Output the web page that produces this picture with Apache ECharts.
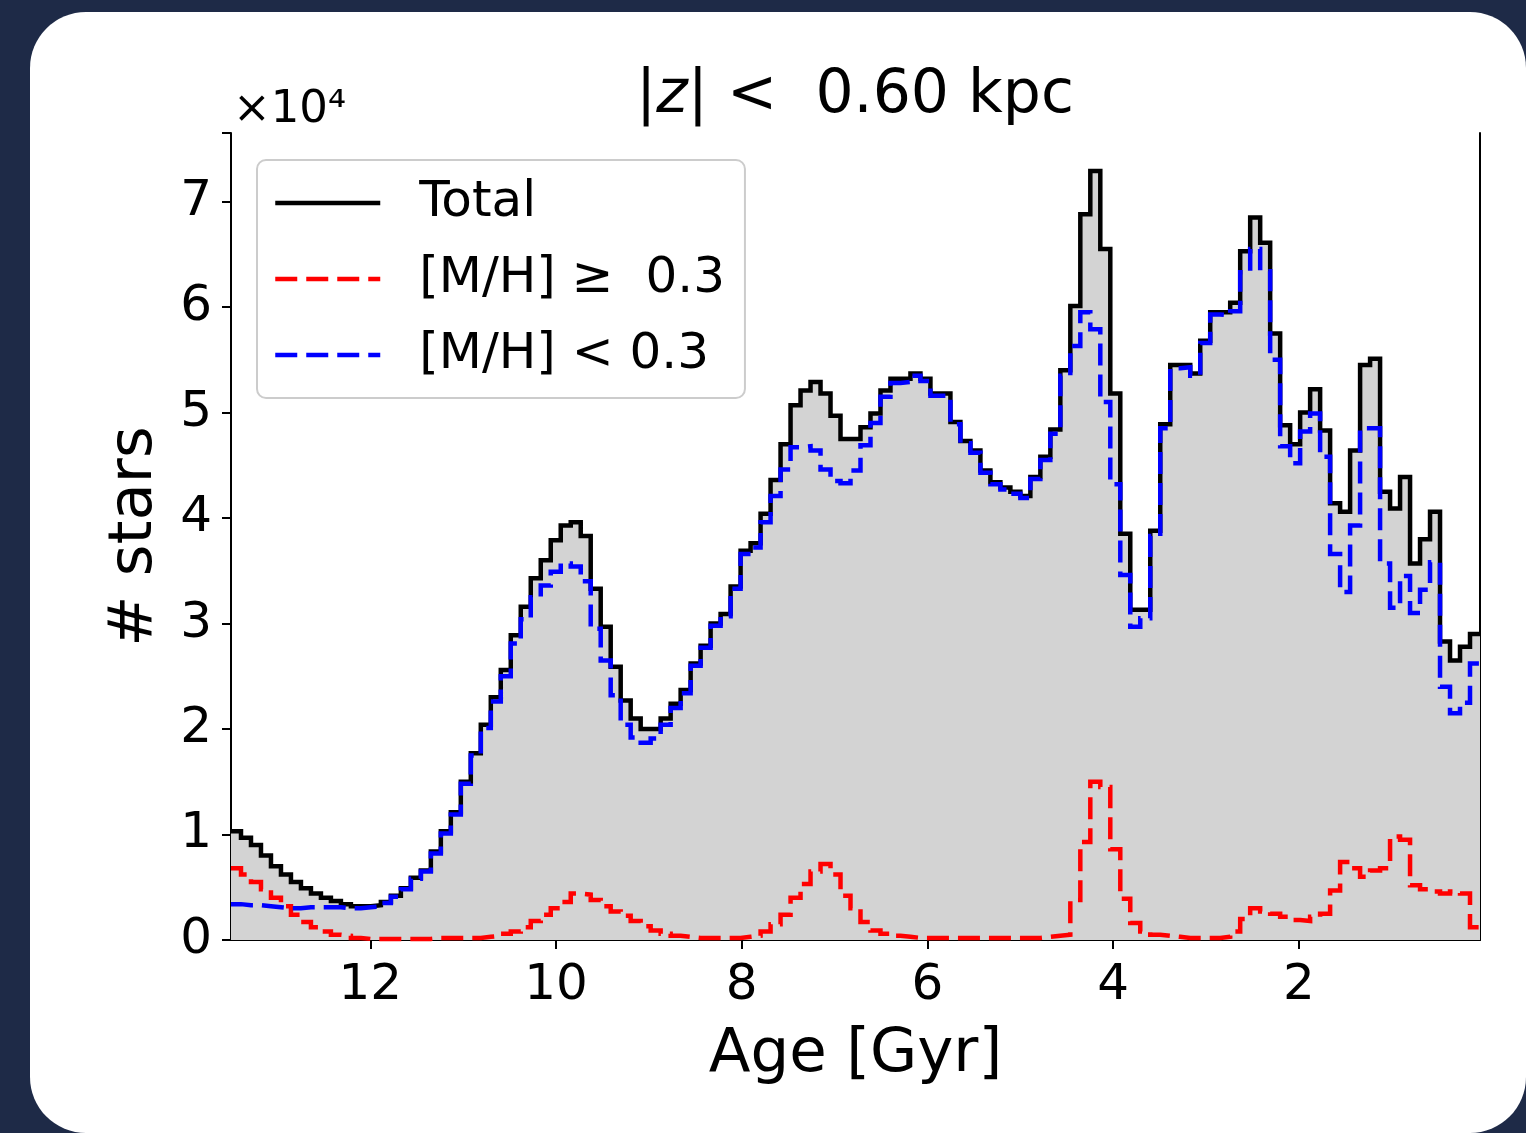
<!DOCTYPE html>
<html><head><meta charset="utf-8">
<script src="https://cdn.jsdelivr.net/npm/echarts@6/dist/echarts.min.js"></script>
<style>
html,body{margin:0;padding:0;width:1526px;height:1133px;background:#1e2a47;overflow:hidden}
#card{position:absolute;left:30px;top:12px;width:1496px;height:1121px;background:#fff;border-radius:56px}
#chart{position:absolute;left:0;top:0;width:1526px;height:1133px}
</style></head><body><div id="card"></div><div id="chart"></div>
<script>
// Age range of the histogram (Gyr), oldest on the left
const ageMax = 13.5;
const ageMin = 0.05;
// Star counts per age bin, in units of 10^4 (bins ordered from oldest to youngest)
const total = [
 1.03,0.97,0.90,0.80,0.70,0.62,0.55,0.49,0.44,0.40,0.37,0.34,0.32,0.32,
 0.33,0.36,0.42,0.49,0.59,0.66,0.84,1.03,1.21,
 1.50,1.77,2.04,2.30,2.56,2.89,3.16,3.43,3.60,3.79,3.93,3.96,3.83,3.33,
 2.97,2.59,2.27,2.10,2.00,2.00,2.10,2.24,2.37,2.62,2.79,3.00,3.09,3.35,3.69,3.76,4.04,4.36,4.70,5.07,5.21,5.29,
 5.18,4.97,4.75,4.75,4.86,4.99,5.21,5.32,5.32,5.37,5.32,5.18,5.18,4.91,4.73,4.64,4.45,4.34,4.29,4.25,
 4.21,4.39,4.58,4.84,5.40,6.01,6.88,7.29,6.55,5.18,3.85,3.13,3.13,3.88,4.89,5.45,5.45,5.37,5.68,5.95,5.95,6.04,6.53,
 6.85,6.61,5.75,4.88,4.70,5.00,5.22,4.83,4.14,4.06,4.64,5.45,5.51,4.25,4.09,4.39,3.57,3.80,4.06,2.83,2.65,2.78,2.90
];
const metalRich = [
 0.68,0.62,0.55,0.48,0.40,0.32,0.24,0.17,0.12,0.08,0.05,0.04,0.02,0.01,
 0.01,0.01,0.01,0.01,0.01,0.01,0.02,0.02,0.02,0.02,0.02,0.03,
 0.04,0.06,0.08,0.12,0.18,0.24,0.30,0.36,0.44,0.43,0.38,0.32,0.27,0.23,0.18,0.13,0.09,0.06,0.04,0.03,0.02,0.02,
 0.02,0.02,0.02,0.03,0.04,0.08,0.15,0.24,0.40,0.53,0.65,0.72,0.62,0.42,0.30,0.17,0.09,0.06,0.04,
 0.03,0.02,0.02,0.02,0.02,0.02,0.02,0.02,0.02,0.02,0.02,0.02,0.02,0.02,0.03,0.04,
 0.05,0.38,0.93,1.50,1.45,0.86,0.39,0.16,0.08,0.05,0.04,
 0.03,0.02,0.02,0.02,0.02,0.03,0.08,0.20,
 0.30,0.27,0.25,0.22,0.19,0.18,0.22,0.25,0.47,0.74,0.68,0.60,0.66,0.68,0.98,0.95,0.52,0.48,0.46,0.44,0.46,0.44,0.12
];
const metalPoor = [
 0.34,0.33,0.33,0.32,0.31,0.30,0.30,0.31,0.31,0.31,0.31,0.30,0.30,0.31,
 0.32,0.35,0.41,0.48,0.58,0.65,0.82,1.01,1.19,1.48,1.75,2.01,
 2.26,2.50,2.81,3.04,3.25,3.36,3.49,3.57,3.54,3.40,2.95,2.65,2.32,2.04,1.92,1.87,1.91,2.04,2.20,2.34,2.60,2.77,
 2.98,3.07,3.33,3.66,3.72,3.96,4.21,4.46,4.67,4.68,4.64,4.46,4.35,4.33,4.45,4.69,4.90,5.15,5.28,
 5.29,5.35,5.30,5.16,5.16,4.89,4.71,4.62,4.43,4.32,4.27,4.23,4.19,4.37,4.55,4.80,
 5.35,5.63,5.95,5.79,5.10,4.32,3.46,2.97,3.05,3.83,4.85,
 5.42,5.43,5.35,5.66,5.93,5.92,5.96,6.33,
 6.55,6.34,5.50,4.68,4.52,4.82,4.99,4.58,3.66,3.30,3.93,4.85,4.85,3.57,3.15,3.45,3.10,3.32,3.58,2.40,2.15,2.25,2.62
];
const seriesNames = ['Total', '[M/H] \u2265  0.3', '[M/H] < 0.3'];
const xTicks = [2, 4, 6, 8, 10, 12];
const yMax = 7.65;

const binWidth = (ageMax - ageMin) / total.length;
function outline(vals) {
  const pts = vals.map((v, i) => [ageMax - i * binWidth, v]);
  pts.push([ageMin, vals[vals.length - 1]]);
  return pts;
}

const FONT = 'DejaVu Sans';
const chart = echarts.init(document.getElementById('chart'), null, {renderer: 'canvas'});
chart.setOption({
  animation: false,
  backgroundColor: 'transparent',
  title: {
    text: '|{i|z}| <  0.60 kpc',
    left: 636, top: 66, padding: 0,
    textStyle: {fontSize: 60, fontFamily: FONT, fontWeight: 'normal', color: '#000',
      rich: {i: {fontSize: 60, fontFamily: FONT, fontStyle: 'italic', color: '#000'}}}
  },
  graphic: [{
    type: 'text', left: 233, top: 88, z: 10,
    style: {text: '\u00d710\u2074', fontSize: 45, fontFamily: FONT, fill: '#000'}
  }],
  legend: {
    data: seriesNames, orient: 'vertical', left: 257, top: 160,
    itemWidth: 105, itemHeight: 50, itemGap: 26,
    padding: [18, 20, 18, 16],
    backgroundColor: 'rgba(255,255,255,0.85)', borderColor: '#cccccc', borderWidth: 2, borderRadius: 9,
    selectedMode: false,
    itemStyle: {opacity: 0},
    lineStyle: {width: 4.5},
    textStyle: {fontSize: 50, fontFamily: FONT, color: '#000', padding: [0, 0, 0, 34]}
  },
  grid: {left: 231, right: 46, top: 133, bottom: 193},
  xAxis: [{
    type: 'value', inverse: true, min: ageMin, max: ageMax,
    name: 'Age [Gyr]', nameLocation: 'middle', nameGap: 85,
    nameTextStyle: {fontSize: 61, fontFamily: FONT, color: '#000'},
    axisLine: {lineStyle: {color: '#000', width: 2}},
    axisTick: {customValues: xTicks, length: 9, lineStyle: {color: '#000', width: 2}},
    axisLabel: {customValues: xTicks, fontSize: 50, fontFamily: FONT, color: '#000', margin: 21},
    splitLine: {show: false}
  }, {
    type: 'value', inverse: true, min: ageMin, max: ageMax, position: 'top',
    axisLine: {show: true, lineStyle: {color: '#000', width: 2}},
    axisTick: {show: false}, axisLabel: {show: false}, splitLine: {show: false}
  }],
  yAxis: [{
    type: 'value', min: 0, max: yMax, interval: 1,
    name: '# stars', nameLocation: 'middle', nameGap: 65,
    nameTextStyle: {fontSize: 61, fontFamily: FONT, color: '#000'},
    axisLine: {show: true, lineStyle: {color: '#000', width: 2}},
    axisTick: {show: true, length: 9, lineStyle: {color: '#000', width: 2}},
    axisLabel: {fontSize: 50, fontFamily: FONT, color: '#000', margin: 19,
      formatter: v => (Math.abs(v - Math.round(v)) < 1e-9 ? String(Math.round(v)) : '')},
    splitLine: {show: false}
  }, {
    type: 'value', min: 0, max: yMax, position: 'right',
    axisLine: {show: true, lineStyle: {color: '#000', width: 2}},
    axisTick: {show: false}, axisLabel: {show: false}, splitLine: {show: false}
  }],
  series: [{
    name: seriesNames[0], type: 'line', step: 'end', symbol: 'none', z: 2,
    data: outline(total),
    lineStyle: {color: '#000', width: 4.5, join: 'miter'},
    itemStyle: {color: '#000'},
    areaStyle: {color: '#d3d3d3', opacity: 1}
  }, {
    name: seriesNames[1], type: 'line', step: 'end', symbol: 'none', z: 3,
    data: outline(metalRich),
    lineStyle: {color: '#ff0000', width: 4.5, type: [22, 9], join: 'miter'},
    itemStyle: {color: '#ff0000'}
  }, {
    name: seriesNames[2], type: 'line', step: 'end', symbol: 'none', z: 4,
    data: outline(metalPoor),
    lineStyle: {color: '#0000ff', width: 4.5, type: [22, 9], join: 'miter'},
    itemStyle: {color: '#0000ff'}
  }]
});
</script></body></html>
